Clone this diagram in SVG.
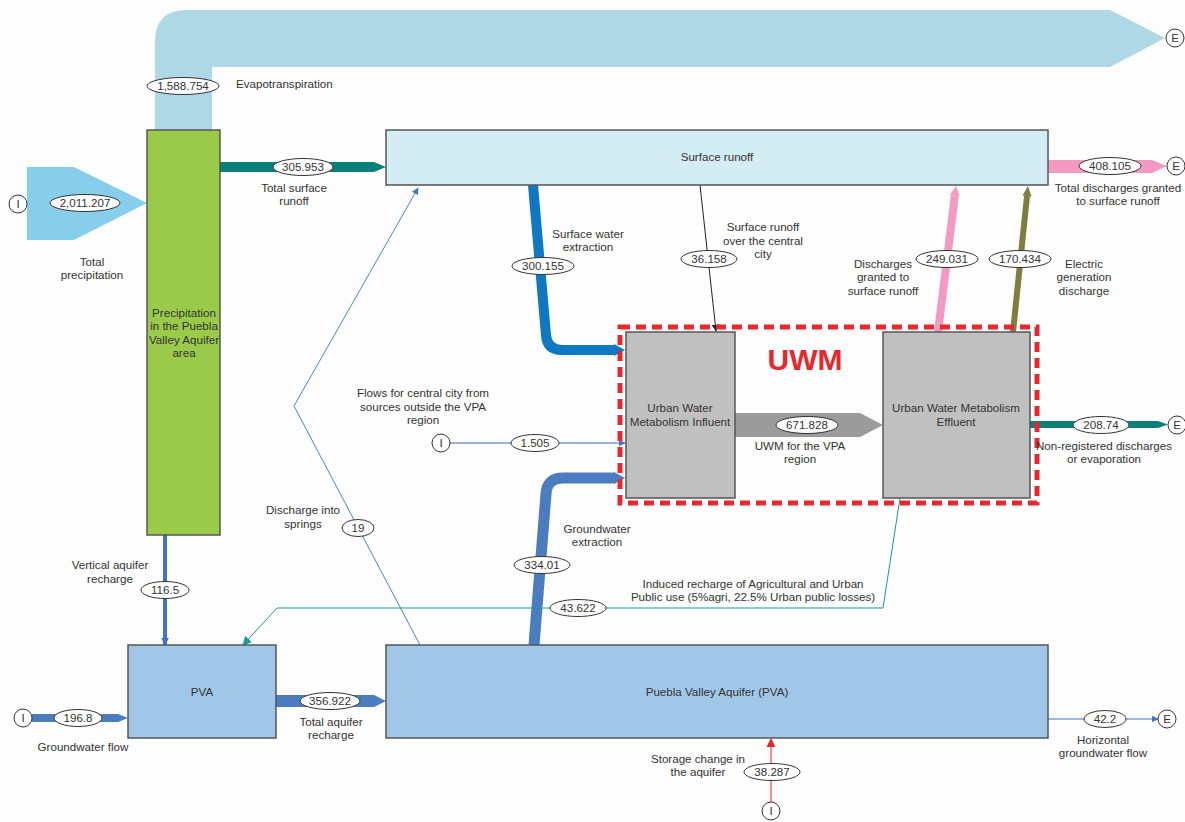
<svg xmlns="http://www.w3.org/2000/svg" width="1185" height="822" viewBox="0 0 1185 822">
<style>
text{font-family:"Liberation Sans",Arial,sans-serif;font-size:11.6px;fill:#333;text-anchor:middle}
.l{text-anchor:start}
.box{stroke:#555;stroke-width:1.5}
.ell{fill:#fff;stroke:#333;stroke-width:1}
.cir{fill:#fff;stroke:#333;stroke-width:1}
</style>
<defs>
<marker id="ab" viewBox="0 0 10 10" refX="9" refY="5" markerWidth="7" markerHeight="7" markerUnits="userSpaceOnUse" orient="auto"><path d="M0,0L10,5L0,10z" fill="#4472c4"/></marker>
<marker id="ak" viewBox="0 0 10 10" refX="9" refY="5" markerWidth="7" markerHeight="7" markerUnits="userSpaceOnUse" orient="auto"><path d="M0,0L10,5L0,10z" fill="#222"/></marker>
<marker id="at" viewBox="0 0 10 10" refX="9" refY="5" markerWidth="9" markerHeight="9" markerUnits="userSpaceOnUse" orient="auto"><path d="M0,0L10,5L0,10z" fill="#1a9a96"/></marker>
<marker id="ar" viewBox="0 0 10 10" refX="9" refY="5" markerWidth="9" markerHeight="9" markerUnits="userSpaceOnUse" orient="auto"><path d="M0,0L10,5L0,10z" fill="#ee2222"/></marker>
<marker id="av" viewBox="0 0 10 10" refX="9" refY="5" markerWidth="8" markerHeight="8" markerUnits="userSpaceOnUse" orient="auto"><path d="M0,0L10,5L0,10z" fill="#4472c4"/></marker>
</defs>
<rect width="1185" height="822" fill="#fdfdfd"/>

<g id="connectors">
<path id="evapo" d="M155,130 L155,42 Q155,10 187,10 L1110,10 L1165,38 L1110,67 L212,67 L212,130 Z" fill="#aed8e6"/>
<path id="precip" d="M27,167 L74,167 L147,203 L74,240 L27,240 Z" fill="#87ceeb"/>
<path d="M220,162 L374,162 L386,167 L374,172 L220,172 Z" fill="#0b7f7a"/>
<path d="M1048,160 L1152,160 L1167,166 L1152,173 L1048,173 Z" fill="#f49ac2"/>
<path d="M1030,421 L1158,421 L1168,424.5 L1158,428 L1030,428 Z" fill="#0b7f7a"/>
<path d="M735,413 L860,413 L883,425 L860,437 L735,437 Z" fill="#9b9b9b"/>
<path d="M276,695 L374,695 L386,701 L374,707 L276,707 Z" fill="#4a7cc0"/>
<path d="M32,714 L118,714 L128,718 L118,722 L32,722 Z" fill="#4a7cc0"/>
<path d="M533,185 L546,335 Q547,350 562,350 L615,350" fill="none" stroke="#0e78c2" stroke-width="10"/>
<path d="M614,344 L625,350 L614,356 Z" fill="#0e78c2"/>
<path d="M534,645 L546,494 Q547,478 563,478 L615,478" fill="none" stroke="#4a7cc0" stroke-width="11"/>
<path d="M614,472 L625,478 L614,484 Z" fill="#4a7cc0"/>
<line x1="938" y1="332" x2="954.8" y2="196" stroke="#f49ac2" stroke-width="8"/>
<path d="M959.8,196.5 L956,186 L949.8,195.3 Z" fill="#f49ac2"/>
<line x1="1013" y1="332" x2="1027" y2="196" stroke="#7e7f3c" stroke-width="6"/>
<path d="M1031.5,196.5 L1028,186 L1022.5,195.5 Z" fill="#7e7f3c"/>
<polyline points="420,645 294,406 418,188" fill="none" stroke="#4a84d0" stroke-width="1" marker-end="url(#ab)"/>
<line x1="700" y1="185" x2="716" y2="331" stroke="#222" stroke-width="1" marker-end="url(#ak)"/>
<line x1="450" y1="443" x2="625" y2="443" stroke="#4060c0" stroke-width="1" marker-end="url(#ab)"/>
<polyline points="900,498 883,608 277,608 243,645" fill="none" stroke="#1a9a96" stroke-width="1" marker-end="url(#at)"/>
<line x1="165" y1="535" x2="165" y2="645" stroke="#4472c4" stroke-width="4" marker-end="url(#av)"/>
<line x1="1048" y1="719" x2="1158" y2="719" stroke="#4472c4" stroke-width="1" marker-end="url(#ab)"/>
<line x1="771" y1="802" x2="771" y2="739" stroke="#ee2222" stroke-width="1" marker-end="url(#ar)"/>
</g>

<g id="node-precipitation">
<rect class="box" x="147" y="130" width="73" height="405" fill="#9aca4a"/>
<text x="184" y="317">Precipitation</text>
<text x="184" y="330">in the Puebla</text>
<text x="184" y="344">Valley Aquifer</text>
<text x="184" y="357">area</text>
</g>
<g id="node-surface-runoff">
<rect class="box" x="386" y="130" width="662" height="55" fill="#d4ecf3"/>
<text x="717" y="161">Surface runoff</text>
</g>
<g id="node-uwm">
<rect x="620" y="327" width="417" height="176" fill="none" stroke="#e8262b" stroke-width="5" stroke-dasharray="10,6"/>
<text x="805" y="370" style="font-size:30px;font-weight:bold;fill:#e8262b">UWM</text>
</g>
<g id="node-influent">
<rect class="box" x="626" y="332" width="109" height="166" fill="#c0c0c0"/>
<text x="680" y="412">Urban Water</text>
<text x="680" y="426">Metabolism Influent</text>
</g>
<g id="node-effluent">
<rect class="box" x="883" y="332" width="147" height="166" fill="#c0c0c0"/>
<text x="956" y="412">Urban Water Metabolism</text>
<text x="956" y="426">Effluent</text>
</g>
<g id="node-pva">
<rect class="box" x="128" y="645" width="148" height="93" fill="#a0c6e8"/>
<text x="202" y="696">PVA</text>
</g>
<g id="node-aquifer">
<rect class="box" x="386" y="645" width="662" height="93" fill="#a0c6e8"/>
<text x="717" y="696">Puebla Valley Aquifer (PVA)</text>
</g>

<g id="terminals">
<circle class="cir" cx="1175" cy="38" r="9"/><text x="1175" y="42">E</text>
<circle class="cir" cx="18" cy="204" r="9"/><text x="18" y="208">I</text>
<circle class="cir" cx="1176" cy="166" r="9"/><text x="1176" y="170">E</text>
<circle class="cir" cx="1177" cy="425" r="9"/><text x="1177" y="429">E</text>
<circle class="cir" cx="441" cy="443" r="9"/><text x="441" y="447">I</text>
<circle class="cir" cx="23" cy="718" r="9"/><text x="23" y="722">I</text>
<circle class="cir" cx="1167" cy="719" r="9"/><text x="1167" y="723">E</text>
<circle class="cir" cx="771" cy="811" r="9"/><text x="771" y="815">I</text>
</g>

<g id="values">
<ellipse class="ell" cx="183" cy="86" rx="36" ry="8.5"/><text x="183" y="90">1,588.754</text>
<ellipse class="ell" cx="85" cy="203" rx="35" ry="8.5"/><text x="85" y="207">2,011.207</text>
<ellipse class="ell" cx="303" cy="167" rx="30" ry="8.5"/><text x="303" y="171">305.953</text>
<ellipse class="ell" cx="1110" cy="166" rx="31" ry="8.5"/><text x="1110" y="170">408.105</text>
<ellipse class="ell" cx="543" cy="266" rx="31" ry="8.5"/><text x="543" y="270">300.155</text>
<ellipse class="ell" cx="709" cy="259" rx="28" ry="8.5"/><text x="709" y="263">36.158</text>
<ellipse class="ell" cx="947" cy="259" rx="31" ry="8.5"/><text x="947" y="263">249.031</text>
<ellipse class="ell" cx="1020" cy="259" rx="31" ry="8.5"/><text x="1020" y="263">170.434</text>
<ellipse class="ell" cx="807" cy="425" rx="31" ry="8.5"/><text x="807" y="429">671.828</text>
<ellipse class="ell" cx="1101" cy="425" rx="28" ry="8.5"/><text x="1101" y="429">208.74</text>
<ellipse class="ell" cx="535" cy="443" rx="24" ry="8.5"/><text x="535" y="447">1.505</text>
<ellipse class="ell" cx="358" cy="528" rx="16" ry="8.5"/><text x="358" y="532">19</text>
<ellipse class="ell" cx="542" cy="565" rx="28" ry="8.5"/><text x="542" y="569">334.01</text>
<ellipse class="ell" cx="165" cy="590" rx="24" ry="8.5"/><text x="165" y="594">116.5</text>
<ellipse class="ell" cx="578" cy="608" rx="28" ry="8.5"/><text x="578" y="612">43.622</text>
<ellipse class="ell" cx="330" cy="701" rx="30" ry="8.5"/><text x="330" y="705">356.922</text>
<ellipse class="ell" cx="78" cy="718" rx="24" ry="8.5"/><text x="78" y="722">196.8</text>
<ellipse class="ell" cx="1105" cy="719" rx="21" ry="8.5"/><text x="1105" y="723">42.2</text>
<ellipse class="ell" cx="772" cy="772" rx="28" ry="8.5"/><text x="772" y="776">38.287</text>
</g>

<g id="labels">
<text class="l" x="236" y="88">Evapotranspiration</text>
<text x="92" y="266">Total</text><text x="92" y="279">precipitation</text>
<text x="294" y="192">Total surface</text><text x="294" y="205">runoff</text>
<text x="1118" y="192">Total discharges granted</text><text x="1118" y="205">to surface runoff</text>
<text x="588" y="238">Surface water</text><text x="588" y="251">extraction</text>
<text x="763" y="231">Surface runoff</text><text x="763" y="245">over the central</text><text x="763" y="258">city</text>
<text x="883" y="268">Discharges</text><text x="883" y="281">granted to</text><text x="883" y="295">surface runoff</text>
<text x="1084" y="268">Electric</text><text x="1084" y="281">generation</text><text x="1084" y="295">discharge</text>
<text x="800" y="450">UWM for the VPA</text><text x="800" y="463">region</text>
<text x="1104" y="450">Non-registered discharges</text><text x="1104" y="463">or evaporation</text>
<text x="423" y="397">Flows for central city from</text><text x="423" y="411">sources outside the VPA</text><text x="423" y="424">region</text>
<text x="303" y="514">Discharge into</text><text x="303" y="528">springs</text>
<text x="597" y="533">Groundwater</text><text x="597" y="546">extraction</text>
<text x="110" y="569">Vertical aquifer</text><text x="110" y="583">recharge</text>
<text x="753" y="588">Induced recharge of Agricultural and Urban</text><text x="753" y="601">Public use (5%agri, 22.5% Urban public losses)</text>
<text x="331" y="726">Total aquifer</text><text x="331" y="739">recharge</text>
<text x="83" y="751">Groundwater flow</text>
<text x="698" y="763">Storage change in</text><text x="698" y="776">the aquifer</text>
<text x="1103" y="744">Horizontal</text><text x="1103" y="757">groundwater flow</text>
</g>
</svg>
